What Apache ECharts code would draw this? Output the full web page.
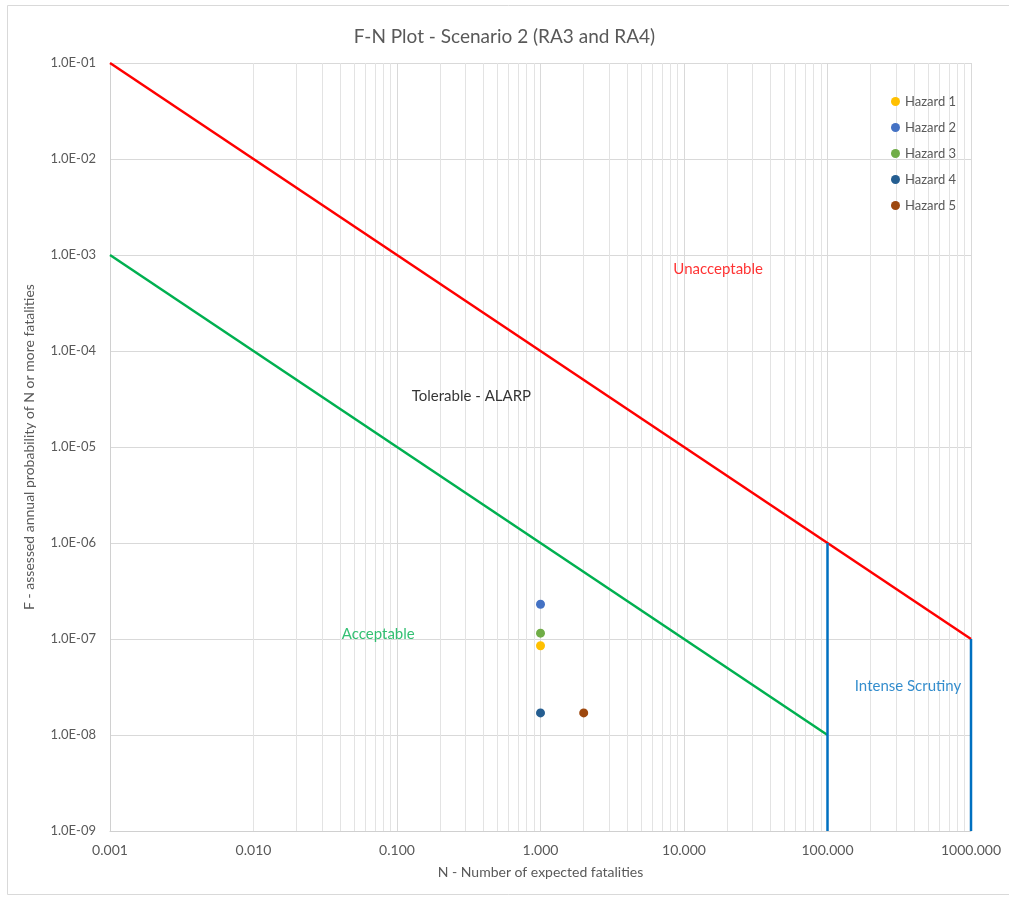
<!DOCTYPE html>
<html><head><meta charset="utf-8">
<script src="https://cdn.jsdelivr.net/npm/echarts@6/dist/echarts.min.js"></script>
<style>html,body{margin:0;padding:0;background:#fff}#c{width:1009px;height:897px}</style>
</head><body><div id="c"></div>
<script>
// Data
const hazardNames = ['Hazard 1','Hazard 2','Hazard 3','Hazard 4','Hazard 5'];
const hazardN = [1, 1, 1, 1, 2];
const hazardF = [8.5e-8, 2.3e-7, 1.15e-7, 1.7e-8, 1.7e-8];
const hazardColors = ['#FFC000','#4472C4','#70AD47','#255E91','#9E480E'];
const unacceptableLine = [[0.001, 1e-1], [1000, 1e-7]];
const acceptableLine = [[0.001, 1e-3], [100, 1e-8]];
const scrutinyLine1 = [[100, 1e-9], [100, 1e-6]];
const scrutinyLine2 = [[1000, 1e-9], [1000, 1e-7]];
const xDecades = [0.001, 0.01, 0.1, 1, 10, 100];
const regionLabels = [
  {name:'Unacceptable', pos:[17.3, 7.1e-4], color:'#FF0000'},
  {name:'Tolerable - ALARP', pos:[0.33, 3.4e-5], color:'#000000'},
  {name:'Acceptable', pos:[0.074, 1.13e-7], color:'#00B050'},
  {name:'Intense Scrutiny', pos:[364, 3.24e-8], color:'#0070C0'}
];

const FONT = 'Lato, "Open Sans", sans-serif';
const minorX = [];
xDecades.forEach(d => { for (let k = 2; k <= 9; k++) minorX.push({xAxis: +(d*k).toPrecision(6)}); });

const chart = echarts.init(document.getElementById('c'));
const series = [
  {type:'line', data: acceptableLine, symbol:'none', lineStyle:{color:'#00B050', width:2.5}, silent:true, z:3,
   markLine:{silent:true, symbol:'none', label:{show:false}, lineStyle:{color:'#e3e3e3', width:1, type:'solid'}, data:minorX, z:1}},
  {type:'line', data: unacceptableLine, symbol:'none', lineStyle:{color:'#FF0000', width:2.5}, silent:true, z:3},
  {type:'line', data: scrutinyLine1, symbol:'none', lineStyle:{color:'#0070C0', width:2.5}, silent:true, z:3},
  {type:'line', data: scrutinyLine2, symbol:'none', lineStyle:{color:'#0070C0', width:2.5}, silent:true, z:3},
  {type:'scatter', data: regionLabels.map(r => ({value:r.pos, label:{color:r.color}})), symbolSize:0, silent:true,
   label:{show:true, position:'inside', formatter:(p)=>regionLabels[p.dataIndex].name, fontSize:15, fontFamily:FONT}}
];
hazardNames.forEach((n,i) => {
  series.push({type:'scatter', name:n, data:[[hazardN[i], hazardF[i]]], symbolSize:9,
    itemStyle:{color:hazardColors[i], opacity:1}, z:5});
});

chart.setOption({
  animation:false,
  title:{text:'F-N Plot - Scenario 2 (RA3 and RA4)', left:'center', top:22,
    textStyle:{fontSize:19, fontWeight:'normal', color:'#595959', fontFamily:FONT}},
  legend:{data:hazardNames, orient:'vertical', left:886, top:90, itemGap:13, itemWidth:9, itemHeight:9,
    icon:'circle', textStyle:{fontSize:13, color:'#595959', fontFamily:FONT}},
  grid:{left:110, right:38, top:63, bottom:66},
  xAxis:{type:'log', logBase:10, min:0.001, max:1000,
    name:'N - Number of expected fatalities', nameLocation:'middle', nameGap:34,
    nameTextStyle:{fontSize:14, color:'#595959', fontFamily:FONT},
    axisLine:{show:true, lineStyle:{color:'#d0d0d0'}}, axisTick:{show:false},
    axisLabel:{fontSize:14, color:'#595959', fontFamily:FONT, margin:12, formatter:v=>v.toFixed(3)},
    splitLine:{show:true, lineStyle:{color:'#d9d9d9'}}},
  yAxis:{type:'log', logBase:10, min:1e-9, max:1e-1,
    name:'F - assessed annual probability of N or more fatalities', nameLocation:'middle', nameGap:74,
    nameTextStyle:{fontSize:14, color:'#595959', fontFamily:FONT},
    axisLine:{show:true, lineStyle:{color:'#d0d0d0'}}, axisTick:{show:false},
    axisLabel:{fontSize:13, color:'#595959', fontFamily:FONT, margin:14,
      formatter:v=>{const e=Math.round(Math.log10(v)); return '1.0E'+(e<0?'-':'+')+String(Math.abs(e)).padStart(2,'0');}},
    splitLine:{show:true, lineStyle:{color:'#d9d9d9'}}},
  graphic:[{type:'rect', shape:{x:7.5, y:5.5, width:1010, height:889}, style:{fill:'none', stroke:'#d9d9d9', lineWidth:1}, silent:true, z:-1}],
  series: series
});
</script></body></html>
